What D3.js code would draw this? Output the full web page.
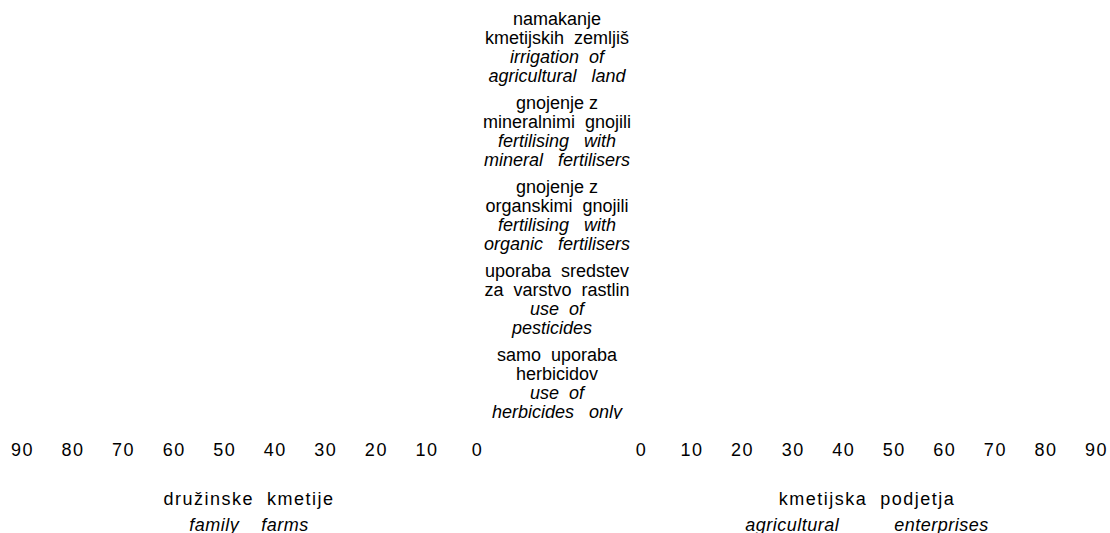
<!DOCTYPE html>
<html>
<head>
<meta charset="utf-8">
<script src="https://cdn.jsdelivr.net/npm/d3@7"></script>
<style>
  html, body { margin: 0; padding: 0; background: #fff; }
  svg { display: block; }
  text { font-family: "Liberation Sans", Arial, sans-serif; fill: #000; white-space: pre; }
</style>
</head>
<body>
<svg id="chart" width="1110" height="533"></svg>
<script>
// ---- data ----
const categoriesSl = [
  ["namakanje", "kmetijskih  zemljiš"],
  ["gnojenje z", "mineralnimi  gnojili"],
  ["gnojenje z", "organskimi  gnojili"],
  ["uporaba  sredstev", "za  varstvo  rastlin"],
  ["samo  uporaba", "herbicidov"]
];
const categoriesEn = [
  ["irrigation  of", "agricultural   land"],
  ["fertilising   with", "mineral   fertilisers"],
  ["fertilising   with", "organic   fertilisers"],
  ["use  of", "pesticides  "],
  ["use  of", "herbicides   only"]
];
// No bars are visible in the reference: values not shown
const familyFarms = [null, null, null, null, null];
const enterprises = [null, null, null, null, null];
const tickValues = [0, 10, 20, 30, 40, 50, 60, 70, 80, 90];
const leftTitle = ["družinske  kmetije", "family    farms"];
const rightTitle = ["kmetijska  podjetja", "agricultural          enterprises"];

// ---- layout ----
const svg = d3.select("#chart");
const xLeft = d3.scaleLinear().domain([0, 90]).range([477, 22]);
const xRight = d3.scaleLinear().domain([0, 90]).range([641, 1096]);
const y = d3.scaleBand().domain(d3.range(categoriesSl.length)).range([4.5, 424.5]).padding(0);
const centerX = 557;
const lineH = 18.7;

// bars (none visible)
const barH = y.bandwidth() * 0.6;
svg.append("g").selectAll("rect")
  .data(familyFarms.map((v, i) => ({ v, i })).filter(d => d.v != null))
  .join("rect")
  .attr("x", d => xLeft(d.v)).attr("width", d => xLeft(0) - xLeft(d.v))
  .attr("y", d => y(d.i) + (y.bandwidth() - barH) / 2).attr("height", barH).attr("fill", "#4a7ab5");
svg.append("g").selectAll("rect")
  .data(enterprises.map((v, i) => ({ v, i })).filter(d => d.v != null))
  .join("rect")
  .attr("x", xRight(0)).attr("width", d => xRight(d.v) - xRight(0))
  .attr("y", d => y(d.i) + (y.bandwidth() - barH) / 2).attr("height", barH).attr("fill", "#4a7ab5");

// category labels
svg.append("clipPath").attr("id", "labclip")
  .append("rect").attr("x", 0).attr("y", 0).attr("width", 1110).attr("height", 419);
const lab = svg.append("g").attr("clip-path", "url(#labclip)");
categoriesSl.forEach((sl, i) => {
  const lines = sl.map(t => ({ t, it: false })).concat(categoriesEn[i].map(t => ({ t, it: true })));
  const c = y(i) + y.bandwidth() / 2;
  lines.forEach((ln, j) => {
    lab.append("text")
      .attr("x", centerX)
      .attr("y", c + (j - 1.5) * lineH + 7)
      .attr("text-anchor", "middle")
      .attr("font-size", 18)
      .attr("font-style", ln.it ? "italic" : "normal")
      .text(ln.t);
  });
});

// axes
function styleAxis(g) {
  g.select(".domain").remove();
  g.selectAll(".tick line").remove();
  g.selectAll(".tick text")
    .attr("font-size", 18)
    .attr("font-family", "Liberation Sans, Arial, sans-serif")
    .attr("letter-spacing", "1.5px")
    .attr("fill", "#000");
}
svg.append("g").attr("transform", "translate(0,440)")
  .call(d3.axisBottom(xLeft).tickValues(tickValues).tickSize(0).tickPadding(3).tickFormat(d3.format("d")))
  .call(styleAxis);
svg.append("g").attr("transform", "translate(0,440)")
  .call(d3.axisBottom(xRight).tickValues(tickValues).tickSize(0).tickPadding(3).tickFormat(d3.format("d")))
  .call(styleAxis);

// titles
function title(lines, cx) {
  svg.append("text").attr("x", cx).attr("y", 505).attr("text-anchor", "middle")
    .attr("font-size", 18).attr("letter-spacing", "1.5px").text(lines[0]);
  svg.append("text").attr("x", cx).attr("y", 531).attr("text-anchor", "middle")
    .attr("font-size", 18).attr("font-style", "italic").attr("letter-spacing", "0.5px").text(lines[1]);
}
title(leftTitle, 249);
title(rightTitle, 867);
</script>
</body>
</html>
